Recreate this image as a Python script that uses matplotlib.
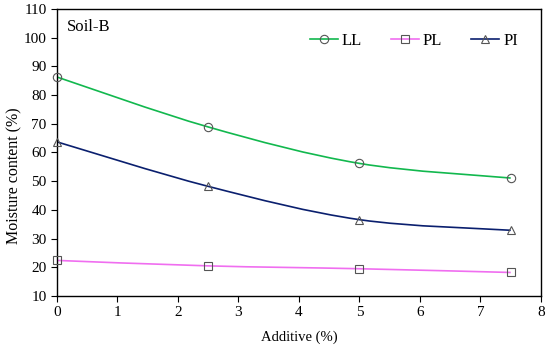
import numpy as np
import matplotlib
matplotlib.use('Agg')
import matplotlib.pyplot as plt
from matplotlib.path import Path
from matplotlib.patches import PathPatch
from matplotlib.lines import Line2D

plt.rcParams['font.family'] = ['Liberation Serif', 'DejaVu Serif']

additive = [0, 2.5, 5, 7.5]
ll = [86.3, 68.9, 56.2, 51.1]
pl = [22.4, 20.5, 19.5, 18.2]
pi = [63.7, 48.2, 36.6, 32.9]

series = [('LL', ll, '#12B84E', 'o'),
          ('PL', pl, '#F06EF0', 's'),
          ('PI', pi, '#0A1F6E', '^')]


# excel style smoothed line: cubic bezier through the points
def smooth_path(x, y):
    p = np.column_stack([x, y]).astype(float)
    n = len(p)
    verts = [p[0]]
    codes = [Path.MOVETO]
    for i in range(n - 1):
        p0 = p[i - 1] if i > 0 else p[i]
        p3 = p[i + 2] if i + 2 < n else p[i + 1]
        c1 = p[i] + (p[i + 1] - p0) / 6.0
        c2 = p[i + 1] - (p3 - p[i]) / 6.0
        verts += [c1, c2, p[i + 1]]
        codes += [Path.CURVE4] * 3
    return Path(verts, codes)


fig = plt.figure(figsize=(5.5, 3.46), dpi=100)
ax = fig.add_axes([0.1036, 0.1445, 0.88, 0.8295])

handles = []
for name, vals, col, mk in series:
    ax.add_patch(PathPatch(smooth_path(additive, vals), facecolor='none',
                           edgecolor=col, lw=1.2, zorder=2))
    ax.plot(additive, vals, ls='none', marker=mk, ms=6, mfc='none',
            mec='#555555', mew=0.8, zorder=3, clip_on=False)
    handles.append(Line2D([], [], color=col, lw=1.2, marker=mk, ms=6,
                          mfc='none', mec='#555555', mew=0.8))

ax.set_xlim(0, 8)
ax.set_ylim(10, 110)
ax.set_xticks(range(0, 9))
ax.set_yticks(range(10, 111, 10))
ax.tick_params(direction='out', length=4, width=0.8, labelsize=11, colors='black')
for s in ax.spines.values():
    s.set_linewidth(1.0)

ax.set_xlabel('Additive (%)', fontsize=10.5, labelpad=8)
ax.set_ylabel('Moisture content (%)', fontsize=11.5)
ax.yaxis.set_label_coords(-0.072, 0.42)
ax.text(0.16, 102.2, 'Soil-B', fontsize=12)

ax.legend(handles, [s[0] for s in series], loc='center left', ncol=3,
          frameon=False, fontsize=12, handlelength=1.65, handletextpad=0.25,
          columnspacing=1.75, borderpad=0, borderaxespad=0,
          bbox_to_anchor=(0.523, 0.89))

fig.savefig('out.png', dpi=100)
